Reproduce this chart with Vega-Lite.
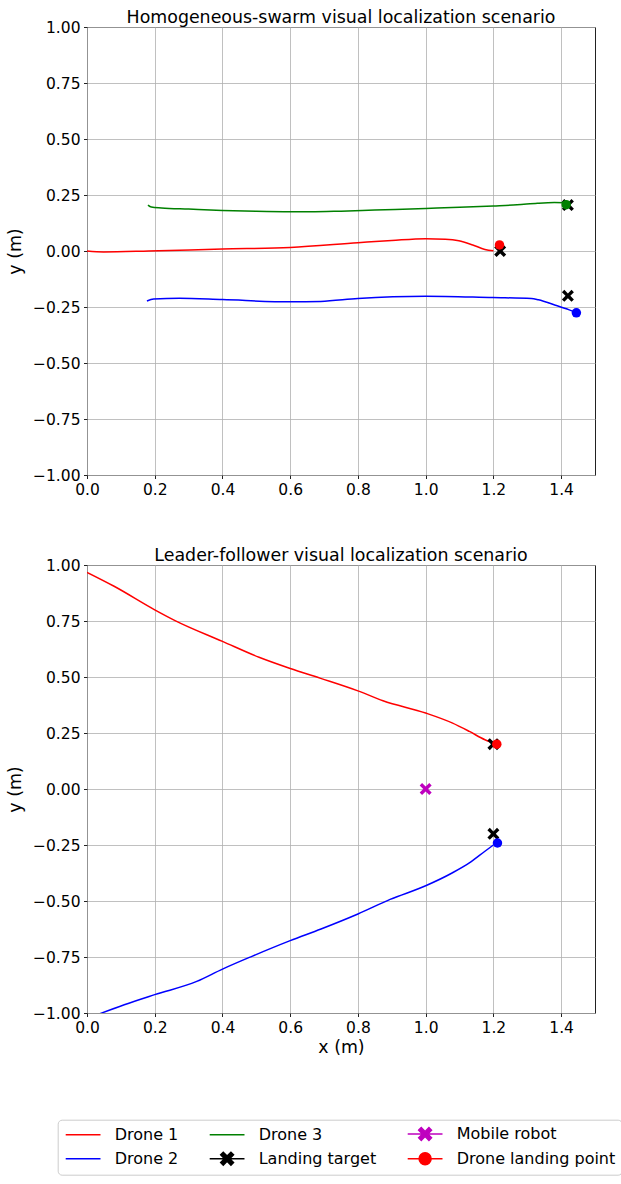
{
  "$schema": "https://vega.github.io/schema/vega-lite/v6.json",
  "background": "white",
  "padding": {"left": 6, "top": 8, "right": 5, "bottom": 5},
  "datasets": {
    "top": [
      {"kind": "path", "series": "Drone 1", "i": 0, "x": 0.0, "y": 0.0},
      {"kind": "path", "series": "Drone 1", "i": 1, "x": 0.049, "y": -0.004},
      {"kind": "path", "series": "Drone 1", "i": 2, "x": 0.182, "y": 0.0},
      {"kind": "path", "series": "Drone 1", "i": 3, "x": 0.4, "y": 0.009},
      {"kind": "path", "series": "Drone 1", "i": 4, "x": 0.6, "y": 0.016},
      {"kind": "path", "series": "Drone 1", "i": 5, "x": 0.8, "y": 0.037},
      {"kind": "path", "series": "Drone 1", "i": 6, "x": 0.9, "y": 0.047},
      {"kind": "path", "series": "Drone 1", "i": 7, "x": 1.0, "y": 0.055},
      {"kind": "path", "series": "Drone 1", "i": 8, "x": 1.058, "y": 0.053},
      {"kind": "path", "series": "Drone 1", "i": 9, "x": 1.098, "y": 0.046},
      {"kind": "path", "series": "Drone 1", "i": 10, "x": 1.139, "y": 0.027},
      {"kind": "path", "series": "Drone 1", "i": 11, "x": 1.175, "y": 0.007},
      {"kind": "path", "series": "Drone 1", "i": 12, "x": 1.2, "y": 0.0015},
      {"kind": "path", "series": "Drone 2", "i": 0, "x": 0.177, "y": -0.223},
      {"kind": "path", "series": "Drone 2", "i": 1, "x": 0.197, "y": -0.214},
      {"kind": "path", "series": "Drone 2", "i": 2, "x": 0.273, "y": -0.211},
      {"kind": "path", "series": "Drone 2", "i": 3, "x": 0.4, "y": -0.217},
      {"kind": "path", "series": "Drone 2", "i": 4, "x": 0.6, "y": -0.227},
      {"kind": "path", "series": "Drone 2", "i": 5, "x": 0.69, "y": -0.225},
      {"kind": "path", "series": "Drone 2", "i": 6, "x": 0.8, "y": -0.212},
      {"kind": "path", "series": "Drone 2", "i": 7, "x": 1.0, "y": -0.202},
      {"kind": "path", "series": "Drone 2", "i": 8, "x": 1.198, "y": -0.208},
      {"kind": "path", "series": "Drone 2", "i": 9, "x": 1.312, "y": -0.212},
      {"kind": "path", "series": "Drone 2", "i": 10, "x": 1.333, "y": -0.218},
      {"kind": "path", "series": "Drone 2", "i": 11, "x": 1.383, "y": -0.242},
      {"kind": "path", "series": "Drone 2", "i": 12, "x": 1.424, "y": -0.263},
      {"kind": "path", "series": "Drone 2", "i": 13, "x": 1.443, "y": -0.274},
      {"kind": "path", "series": "Drone 3", "i": 0, "x": 0.18, "y": 0.205},
      {"kind": "path", "series": "Drone 3", "i": 1, "x": 0.19, "y": 0.196},
      {"kind": "path", "series": "Drone 3", "i": 2, "x": 0.22, "y": 0.192},
      {"kind": "path", "series": "Drone 3", "i": 3, "x": 0.3, "y": 0.187},
      {"kind": "path", "series": "Drone 3", "i": 4, "x": 0.4, "y": 0.181},
      {"kind": "path", "series": "Drone 3", "i": 5, "x": 0.5, "y": 0.177},
      {"kind": "path", "series": "Drone 3", "i": 6, "x": 0.6, "y": 0.175},
      {"kind": "path", "series": "Drone 3", "i": 7, "x": 0.66, "y": 0.175},
      {"kind": "path", "series": "Drone 3", "i": 8, "x": 0.75, "y": 0.178},
      {"kind": "path", "series": "Drone 3", "i": 9, "x": 0.85, "y": 0.183},
      {"kind": "path", "series": "Drone 3", "i": 10, "x": 1.0, "y": 0.19},
      {"kind": "path", "series": "Drone 3", "i": 11, "x": 1.1, "y": 0.195},
      {"kind": "path", "series": "Drone 3", "i": 12, "x": 1.2, "y": 0.201},
      {"kind": "path", "series": "Drone 3", "i": 13, "x": 1.27, "y": 0.206},
      {"kind": "path", "series": "Drone 3", "i": 14, "x": 1.33, "y": 0.213},
      {"kind": "path", "series": "Drone 3", "i": 15, "x": 1.38, "y": 0.216},
      {"kind": "path", "series": "Drone 3", "i": 16, "x": 1.41, "y": 0.215},
      {"kind": "target", "series": "Landing target", "drone": "Drone 1", "x": 1.22, "y": 0.0},
      {"kind": "target", "series": "Landing target", "drone": "Drone 2", "x": 1.42, "y": -0.2},
      {"kind": "target", "series": "Landing target", "drone": "Drone 3", "x": 1.42, "y": 0.205},
      {"kind": "landing", "drone": "Drone 1", "x": 1.218, "y": 0.027},
      {"kind": "landing", "drone": "Drone 2", "x": 1.445, "y": -0.276},
      {"kind": "landing", "drone": "Drone 3", "x": 1.415, "y": 0.207}
    ],
    "bottom": [
      {"kind": "path", "series": "Drone 1", "i": 0, "x": 0.0, "y": 0.967},
      {"kind": "path", "series": "Drone 1", "i": 1, "x": 0.08, "y": 0.905},
      {"kind": "path", "series": "Drone 1", "i": 2, "x": 0.2, "y": 0.8},
      {"kind": "path", "series": "Drone 1", "i": 3, "x": 0.26, "y": 0.752},
      {"kind": "path", "series": "Drone 1", "i": 4, "x": 0.4, "y": 0.659},
      {"kind": "path", "series": "Drone 1", "i": 5, "x": 0.508, "y": 0.588},
      {"kind": "path", "series": "Drone 1", "i": 6, "x": 0.6, "y": 0.538},
      {"kind": "path", "series": "Drone 1", "i": 7, "x": 0.69, "y": 0.494},
      {"kind": "path", "series": "Drone 1", "i": 8, "x": 0.8, "y": 0.438},
      {"kind": "path", "series": "Drone 1", "i": 9, "x": 0.874, "y": 0.394},
      {"kind": "path", "series": "Drone 1", "i": 10, "x": 1.0, "y": 0.339},
      {"kind": "path", "series": "Drone 1", "i": 11, "x": 1.078, "y": 0.295},
      {"kind": "path", "series": "Drone 1", "i": 12, "x": 1.129, "y": 0.257},
      {"kind": "path", "series": "Drone 1", "i": 13, "x": 1.175, "y": 0.22},
      {"kind": "path", "series": "Drone 1", "i": 14, "x": 1.195, "y": 0.208},
      {"kind": "path", "series": "Drone 2", "i": 0, "x": 0.035, "y": -1.005},
      {"kind": "path", "series": "Drone 2", "i": 1, "x": 0.11, "y": -0.963},
      {"kind": "path", "series": "Drone 2", "i": 2, "x": 0.2, "y": -0.918},
      {"kind": "path", "series": "Drone 2", "i": 3, "x": 0.324, "y": -0.859},
      {"kind": "path", "series": "Drone 2", "i": 4, "x": 0.4, "y": -0.804},
      {"kind": "path", "series": "Drone 2", "i": 5, "x": 0.487, "y": -0.747},
      {"kind": "path", "series": "Drone 2", "i": 6, "x": 0.6, "y": -0.677},
      {"kind": "path", "series": "Drone 2", "i": 7, "x": 0.691, "y": -0.625},
      {"kind": "path", "series": "Drone 2", "i": 8, "x": 0.8, "y": -0.558},
      {"kind": "path", "series": "Drone 2", "i": 9, "x": 0.895, "y": -0.493},
      {"kind": "path", "series": "Drone 2", "i": 10, "x": 1.0, "y": -0.432},
      {"kind": "path", "series": "Drone 2", "i": 11, "x": 1.078, "y": -0.375},
      {"kind": "path", "series": "Drone 2", "i": 12, "x": 1.129, "y": -0.33},
      {"kind": "path", "series": "Drone 2", "i": 13, "x": 1.175, "y": -0.278},
      {"kind": "path", "series": "Drone 2", "i": 14, "x": 1.2, "y": -0.25},
      {"kind": "robot", "series": "Mobile robot", "x": 1.0, "y": 0.0},
      {"kind": "target", "series": "Landing target", "drone": "Drone 1", "x": 1.2, "y": 0.2},
      {"kind": "target", "series": "Landing target", "drone": "Drone 2", "x": 1.2, "y": -0.2},
      {"kind": "landing", "drone": "Drone 1", "x": 1.21, "y": 0.2},
      {"kind": "landing", "drone": "Drone 2", "x": 1.212, "y": -0.241}
    ]
  },
  "config": {
    "font": "DejaVu Sans",
    "view": {"stroke": "#222222", "strokeWidth": 1},
    "axis": {
      "labelFont": "DejaVu Sans", "labelFontSize": 15.5, "labelColor": "#000000", "labelFlush": false,
      "titleFont": "DejaVu Sans", "titleFontSize": 17.4, "titleFontWeight": "normal", "titleColor": "#000000",
      "gridColor": "#b0b0b0", "gridWidth": 0.8, "domain": false,
      "tickColor": "#222222", "tickSize": 3.5, "labelPadding": 3.5, "titlePadding": 8
    },
    "axisX": {"titlePadding": 3},
    "title": {"font": "DejaVu Sans", "fontSize": 17.4, "fontWeight": "normal", "color": "#000000", "offset": -6},
    "legend": {
      "labelFont": "DejaVu Sans", "labelFontSize": 16, "labelColor": "#000000",
      "symbolSize": 144, "symbolStrokeWidth": 1.5, "symbolOffset": 11.4, "labelOffset": 23.6,
      "strokeColor": "#cccccc", "cornerRadius": 4, "padding": 6, "fillColor": "white",
      "columnPadding": 28, "rowPadding": 5
    }
  },
  "resolve": {"scale": {"color": "shared"}, "legend": {"color": "shared"}},
  "spacing": 48,
  "vconcat": [
    {
      "width": 508, "height": 448,
      "title": "Homogeneous-swarm visual localization scenario",
      "data": {"name": "top"},
      "encoding": {
        "x": {"field": "x", "type": "quantitative", "scale": {"domain": [0, 1.5], "nice": false},
              "axis": {"values": [0, 0.2, 0.4, 0.6, 0.8, 1.0, 1.2, 1.4], "format": ".1f", "title": null}},
        "y": {"field": "y", "type": "quantitative", "scale": {"domain": [-1, 1], "nice": false},
              "axis": {"values": [-1, -0.75, -0.5, -0.25, 0, 0.25, 0.5, 0.75, 1], "format": ".2f", "title": "y (m)"}}
      },
      "layer": [
        {
          "transform": [{"filter": "datum.kind === 'path'"}],
          "mark": {"type": "line", "strokeWidth": 1.5, "clip": true, "interpolate": "monotone"},
          "encoding": {
            "order": {"field": "i", "type": "quantitative"},
            "color": {"field": "series", "type": "nominal",
              "scale": {"domain": ["Drone 1", "Drone 3", "Mobile robot", "Drone 2", "Landing target", "Drone landing point"],
                        "range": ["#ff0000", "#008000", "#bf00bf", "#0000ff", "#000000", "#ff0000"]},
              "legend": {
                "orient": "none", "direction": "horizontal", "legendX": -29.3, "legendY": 1092.7, "columns": 3, "title": null,
                "encode": {"symbols": {"update": {
                  "shape": {"signal": "(datum.value === 'Landing target' || datum.value === 'Mobile robot') ? 'M-2.9,0H2.9M-1.07,-0.64L-0.64,-1.07L0,-0.43L0.64,-1.07L1.07,-0.64L0.43,0L1.07,0.64L0.64,1.07L0,0.43L-0.64,1.07L-1.07,0.64L-0.43,0Z' : (datum.value === 'Drone landing point' ? 'M-2.9,0H2.9M1,0A1,1 0 1,1 -1,0A1,1 0 1,1 1,0Z' : 'M-2.9,0H2.9')"},
                  "fill": {"scale": "color", "field": "value"},
                  "stroke": {"scale": "color", "field": "value"},
                  "strokeWidth": {"value": 1.5},
                  "opacity": {"value": 1}
                }}}
              }}
          }
        },
        {
          "transform": [{"filter": "datum.kind === 'target'"}],
          "mark": {"type": "point", "filled": true, "opacity": 1, "size": 144,
                   "shape": "M-1,-0.6L-0.6,-1L0,-0.4L0.6,-1L1,-0.6L0.4,0L1,0.6L0.6,1L0,0.4L-0.6,1L-1,0.6L-0.4,0Z"},
          "encoding": {"color": {"field": "series", "type": "nominal"}}
        },
        {
          "transform": [{"filter": "datum.kind === 'landing'"}],
          "mark": {"type": "point", "filled": true, "opacity": 1, "size": 90, "shape": "circle"},
          "encoding": {"fill": {"field": "drone", "type": "nominal",
            "scale": {"domain": ["Drone 1", "Drone 2", "Drone 3"], "range": ["#ff0000", "#0000ff", "#008000"]}, "legend": null}}
        }
      ]
    },
    {
      "width": 508, "height": 448,
      "title": "Leader-follower visual localization scenario",
      "data": {"name": "bottom"},
      "encoding": {
        "x": {"field": "x", "type": "quantitative", "scale": {"domain": [0, 1.5], "nice": false},
              "axis": {"values": [0, 0.2, 0.4, 0.6, 0.8, 1.0, 1.2, 1.4], "format": ".1f", "title": "x (m)"}},
        "y": {"field": "y", "type": "quantitative", "scale": {"domain": [-1, 1], "nice": false},
              "axis": {"values": [-1, -0.75, -0.5, -0.25, 0, 0.25, 0.5, 0.75, 1], "format": ".2f", "title": "y (m)"}}
      },
      "layer": [
        {
          "transform": [{"filter": "datum.kind === 'path'"}],
          "mark": {"type": "line", "strokeWidth": 1.5, "clip": true, "interpolate": "monotone"},
          "encoding": {
            "order": {"field": "i", "type": "quantitative"},
            "color": {"field": "series", "type": "nominal"}
          }
        },
        {
          "transform": [{"filter": "datum.kind === 'robot' || datum.kind === 'target'"}],
          "mark": {"type": "point", "filled": true, "opacity": 1, "size": 144,
                   "shape": "M-1,-0.6L-0.6,-1L0,-0.4L0.6,-1L1,-0.6L0.4,0L1,0.6L0.6,1L0,0.4L-0.6,1L-1,0.6L-0.4,0Z"},
          "encoding": {"color": {"field": "series", "type": "nominal"}}
        },
        {
          "transform": [{"filter": "datum.kind === 'landing'"}],
          "mark": {"type": "point", "filled": true, "opacity": 1, "size": 90, "shape": "circle"},
          "encoding": {"fill": {"field": "drone", "type": "nominal",
            "scale": {"domain": ["Drone 1", "Drone 2", "Drone 3"], "range": ["#ff0000", "#0000ff", "#008000"]}, "legend": null}}
        }
      ]
    }
  ]
}
